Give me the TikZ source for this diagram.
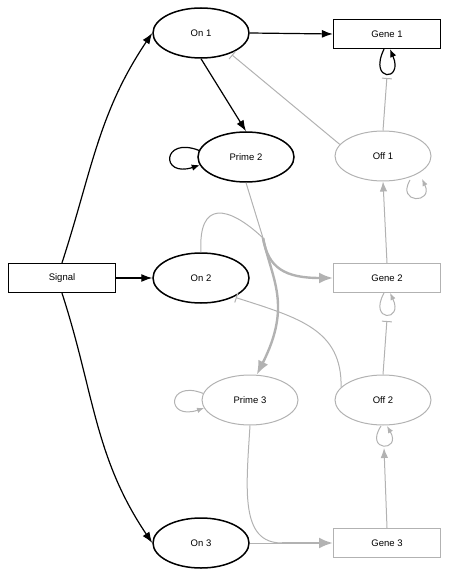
\documentclass[tikz,border=0pt]{standalone}
\usepackage{fontspec}
\setmainfont{Liberation Sans}
\usetikzlibrary{shapes.geometric,arrows.meta}
\definecolor{lg}{RGB}{178,178,178}
\begin{document}
\begin{tikzpicture}[x=1pt,y=-1pt,
  lbl/.style={font=\fontsize{9.5}{11}\selectfont, inner sep=0pt},
  ell/.style={lbl, ellipse, draw, line width=1.5pt, minimum width=96pt, minimum height=50pt},
  gell/.style={ell, draw=lg, line width=1pt},
  box/.style={lbl, rectangle, draw, line width=1.3pt, minimum width=107pt, minimum height=29pt},
  gbox/.style={box, draw=lg, line width=1pt},
  bl/.style={draw=black, line width=1.2pt, -{Latex[length=11pt,width=8pt]}},
  blloop/.style={draw=black, line width=1.2pt, -{Latex[length=8pt,width=6.5pt]}},
  gl/.style={draw=lg, line width=1pt},
  garr/.style={gl, -{Latex[length=10pt,width=7.5pt]}},
  gloop/.style={gl, -{Latex[length=7pt,width=5.5pt]}},
  ginh/.style={gl, shorten >=2pt, -{Bar[width=10pt,line width=1pt]}},
  gthick/.style={draw=lg, line width=2.4pt},
  gthickarr/.style={gthick, -{Latex[length=14pt,width=11pt]}}]
\useasboundingbox (0,0) rectangle (450,577);

% nodes
\node[ell]   (on1)    at (201,33)  {On 1};
\node[box]   (gene1)  at (387,34)  {Gene 1};
\node[ell]   (prime2) at (246,157) {Prime 2};
\node[gell]  (off1)   at (383,156) {Off 1};
\node[box]   (signal) at (62,278)  {Signal};
\node[ell]   (on2)    at (201,278) {On 2};
\node[gbox]  (gene2)  at (387,278) {Gene 2};
\node[gell]  (prime3) at (250,400) {Prime 3};
\node[gell]  (off2)   at (383,400) {Off 2};
\node[ell]   (on3)    at (201,543) {On 3};
\node[gbox]  (gene3)  at (387,543) {Gene 3};

\coordinate (g1b) at (387,76);
\coordinate (g2b) at (387,319);
\coordinate (o2b) at (384,448);
\coordinate (j1)  at (263,238);
\coordinate (j3)  at (282,543);

% black edges
\draw[bl] (signal.north) to[out=72,in=236] (on1.west);
\draw[bl] (signal.east) -- (on2.west);
\draw[bl] (signal.south) to[out=-72,in=124] (on3.west);
\draw[bl] (on1.east) -- (gene1.west);
\draw[bl] (on1.south) -- (prime2.north);
\draw[blloop] (prime2.172) .. controls (162,136) and (160,178) .. (prime2.190);
\draw[blloop] ([xshift=-3pt]gene1.south) .. controls (368,82) and (404,82) .. ([xshift=3pt]gene1.south);

% gray edges
\draw[ginh] (off1.165) -- (on1.-35);
\draw[ginh] (off1.north) -- (g1b);
\draw[gloop] (410,180) .. controls (396,204) and (434,204) .. (422,179);
\draw[garr] (gene2.north) -- (off1.south);

\draw[gl] (on2.north) .. controls (198,200) and (228,205) .. (j1);
\draw[gl] (prime2.south) -- (j1);
\draw[gthickarr] (j1) .. controls (268,268) and (285,278) .. (gene2.west);
\draw[gthickarr] (j1) .. controls (272,280) and (292,305) .. (prime3.75);

\draw[ginh] (off2.163) .. controls (342,330) and (300,318) .. (on2.-30);
\draw[ginh] (off2.north) -- (g2b);
\draw[gloop] (384,293) .. controls (368,322) and (404,322) .. (390,293);
\draw[gloop] (prime3.172) .. controls (167,379) and (165,421) .. (prime3.190);
\draw[gloop] (381,426) .. controls (364,452) and (402,452) .. (387,426);
\draw[garr] (gene3.north) -- (o2b);

\draw[gl] (prime3.south) .. controls (246,490) and (240,543) .. (j3);
\draw[gl] (on3.east) -- (j3);
\draw[gthickarr] (j3) -- (gene3.west);
\end{tikzpicture}
\end{document}
